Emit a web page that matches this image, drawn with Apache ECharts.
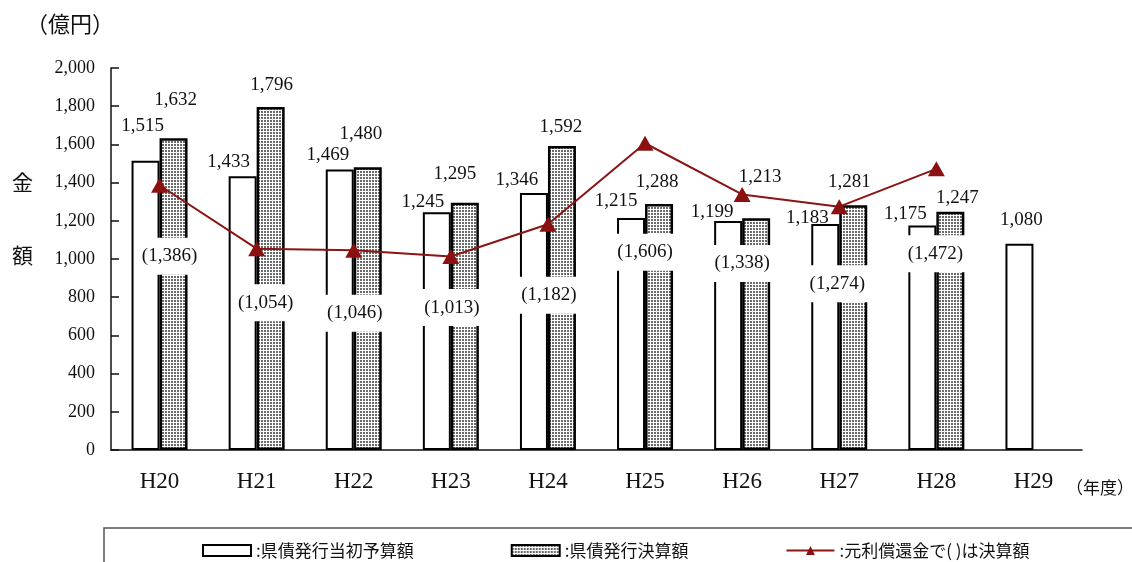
<!DOCTYPE html>
<html>
<head>
<meta charset="utf-8">
<script src="https://cdn.jsdelivr.net/npm/echarts@6/dist/echarts.min.js"></script>
<style>
html,body{margin:0;padding:0;background:#fff;}
#c{width:1132px;height:562px;}
</style>
</head>
<body>
<div id="c"></div>
<script>
// ---- data ----
const categories = ['H20','H21','H22','H23','H24','H25','H26','H27','H28','H29'];
const initialBudget = [1515,1433,1469,1245,1346,1215,1199,1183,1175,1080];
const finalAmount   = [1632,1796,1480,1295,1592,1288,1213,1281,1247,null];
const repayment     = [1386,1054,1046,1013,1182,1606,1338,1274,1472,null];
const yTicks = [0,200,400,600,800,1000,1200,1400,1600,1800,2000];

// ---- label layout (styling only) ----
const initialLabelOffsets = [[-3,-26],[-14,-5],[-12,-5],[-14,-1],[-17,-4],[-15,-8],[-16,0],[-18,3],[-17,-3],[2,-15]];
const finalLabelOffsets   = [[2,-29],[1,-13],[-7,-24],[-10,-20],[-1,-10],[-2,-13],[4,-32],[-4,-14],[7,-5],[0,0]];
const repayLabelOffsets   = [[10,71],[9,54],[1,63],[1,51],[1,71],[0,109],[0,69],[-2,77],[-1,85],[0,0]];

const fmt = v => Number(v).toLocaleString('en-US');

// dotted pattern
const pc = document.createElement('canvas');
pc.width = 3; pc.height = 3;
const pctx = pc.getContext('2d');
pctx.fillStyle = '#ffffff'; pctx.fillRect(0,0,3,3);
pctx.fillStyle = '#6a6a6a'; pctx.fillRect(0,0,2,2);
const dotted = {image: pc, repeat: 'repeat'};

const serif = 'Liberation Serif';
const valueLabel = {
  show: true, position: 'top', distance: 0,
  fontFamily: serif, fontSize: 19, lineHeight: 18, color: '#111',
  formatter: p => fmt(p.value)
};

const chart = echarts.init(document.getElementById('c'), null, {renderer: 'canvas'});
chart.setOption({
  animation: false,
  backgroundColor: '#fff',
  grid: {left: 111, right: 50, top: 68, bottom: 112, containLabel: false},
  legend: {
    left: 197, top: 537, itemWidth: 48, itemHeight: 11, itemGap: 97,
    textStyle: {fontFamily: 'Noto Sans CJK JP', fontSize: 17, color: '#111'},
    formatter: n => ':' + n,
    data: [
      {name: '県債発行当初予算額', icon: 'rect'},
      {name: '県債発行決算額', icon: 'rect'},
      {name: '元利償還金で( )は決算額'}
    ]
  },
  xAxis: {
    type: 'category', data: categories, boundaryGap: true,
    axisLine: {lineStyle: {color: '#111', width: 1.5}},
    axisTick: {inside: true, length: 8, lineStyle: {color: '#111', width: 1.5}},
    axisLabel: {fontFamily: serif, fontSize: 23, color: '#111', margin: 20}
  },
  yAxis: {
    type: 'value', min: 0, max: 2000, interval: 200,
    splitLine: {show: false},
    axisLine: {show: true, lineStyle: {color: '#111', width: 1.5}},
    axisTick: {show: true, inside: true, length: 8, lineStyle: {color: '#111', width: 1.5}},
    axisLabel: {fontFamily: serif, fontSize: 18, color: '#111', margin: 16,
      formatter: v => yTicks.includes(v) ? fmt(v) : ''}
  },
  graphic: [
    {type: 'text', left: 26, top: 13, style: {text: '（億円）', font: '22px "Noto Sans CJK JP"', fill: '#111'}},
    {type: 'text', left: 12, top: 172, style: {text: '金', font: '21px "Noto Sans CJK JP"', fill: '#111'}},
    {type: 'text', left: 12, top: 245, style: {text: '額', font: '21px "Noto Sans CJK JP"', fill: '#111'}},
    {type: 'text', left: 1066, top: 479, style: {text: '（年度）', font: '17px "Noto Sans CJK JP"', fill: '#111'}},
    {type: 'rect', shape: {x: 104, y: 528, width: 1200, height: 100}, style: {fill: 'none', stroke: '#555', lineWidth: 1.5}, silent: true}
  ],
  series: [
    {
      name: '県債発行当初予算額', type: 'bar', barWidth: 28, barGap: '0%', z: 2,
      itemStyle: {color: '#fff', borderColor: '#000', borderWidth: 2},
      data: initialBudget.map((v, i) => ({value: v, label: Object.assign({}, valueLabel, {offset: initialLabelOffsets[i]})}))
    },
    {
      name: '県債発行決算額', type: 'bar', barWidth: 28, barGap: '0%', z: 2,
      itemStyle: {color: dotted, borderColor: '#000', borderWidth: 2.5},
      data: finalAmount.map((v, i) => ({value: v, label: Object.assign({}, valueLabel, {offset: finalLabelOffsets[i], show: v != null})}))
    },
    {
      name: '元利償還金で( )は決算額', type: 'line', z: 5,
      symbol: 'triangle', symbolSize: [17, 15],
      lineStyle: {color: '#8b1414', width: 2},
      itemStyle: {color: '#8b1010'},
      data: repayment.map((v, i) => ({value: v, label: {
        show: v != null, position: 'inside', offset: repayLabelOffsets[i],
        formatter: p => '(' + fmt(p.value) + ')',
        fontFamily: serif, fontSize: 19, color: '#111',
        backgroundColor: '#fff', padding: [9, 5]
      }}))
    }
  ]
});
</script>
</body>
</html>
